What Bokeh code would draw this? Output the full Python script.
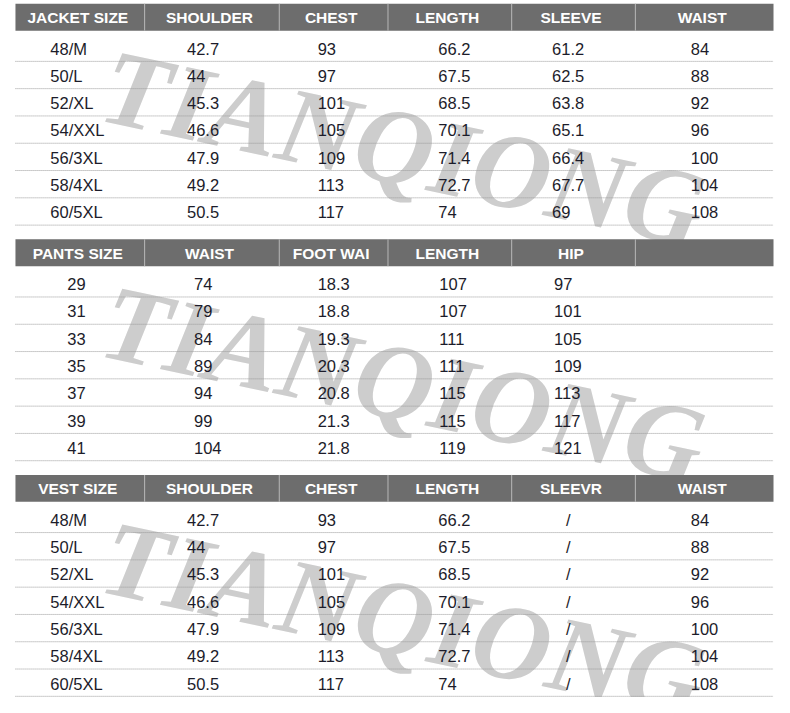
from bokeh.plotting import figure
from bokeh.models import Range1d
from bokeh.core.properties import value
from bokeh.embed import file_html
from bokeh.resources import INLINE

# ---------------- data ----------------
jacket_cols = ["JACKET SIZE", "SHOULDER", "CHEST", "LENGTH", "SLEEVE", "WAIST"]
jacket_size = ["48/M", "50/L", "52/XL", "54/XXL", "56/3XL", "58/4XL", "60/5XL"]
jacket_shoulder = [42.7, 44, 45.3, 46.6, 47.9, 49.2, 50.5]
jacket_chest = [93, 97, 101, 105, 109, 113, 117]
jacket_length = [66.2, 67.5, 68.5, 70.1, 71.4, 72.7, 74]
jacket_sleeve = [61.2, 62.5, 63.8, 65.1, 66.4, 67.7, 69]
jacket_waist = [84, 88, 92, 96, 100, 104, 108]

pants_cols = ["PANTS SIZE", "WAIST", "FOOT WAI", "LENGTH", "HIP", ""]
pants_size = [29, 31, 33, 35, 37, 39, 41]
pants_waist = [74, 79, 84, 89, 94, 99, 104]
pants_foot = [18.3, 18.8, 19.3, 20.3, 20.8, 21.3, 21.8]
pants_length = [107, 107, 111, 111, 115, 115, 119]
pants_hip = [97, 101, 105, 109, 113, 117, 121]

vest_cols = ["VEST SIZE", "SHOULDER", "CHEST", "LENGTH", "SLEEVR", "WAIST"]
vest_size = ["48/M", "50/L", "52/XL", "54/XXL", "56/3XL", "58/4XL", "60/5XL"]
vest_shoulder = [42.7, 44, 45.3, 46.6, 47.9, 49.2, 50.5]
vest_chest = [93, 97, 101, 105, 109, 113, 117]
vest_length = [66.2, 67.5, 68.5, 70.1, 71.4, 72.7, 74]
vest_sleeve = ["/", "/", "/", "/", "/", "/", "/"]
vest_waist = [84, 88, 92, 96, 100, 104, 108]

watermark = "TIANQIONG"

# ---------------- layout (pixel units of the picture) ----------------
col_edges = [15, 144, 279, 388, 512, 636, 775]
table_top = [3.3, 243.3, 483.3]
header_h = 27.4
row_first = 49.0 - 3.3     # first row centre offset from table top
row_h = 27.8

tables = [
    (jacket_cols, [jacket_size, jacket_shoulder, jacket_chest, jacket_length, jacket_sleeve, jacket_waist],
     [50, 187, 318, 439, 553, 692]),
    (pants_cols, [pants_size, pants_waist, pants_foot, pants_length, pants_hip],
     [67, 194, 318, 440, 555]),
    (vest_cols, [vest_size, vest_shoulder, vest_chest, vest_length, vest_sleeve, vest_waist],
     [50, 187, 318, 439, 567, 692]),
]


def fmt(v):
    if isinstance(v, str):
        return v
    return f"{v:g}"


W, H = 774, 697
p = figure(width=W, height=H, output_backend="svg", toolbar_location=None,
           x_range=Range1d(0, 776), y_range=Range1d(-710, 0),
           min_border=0, tools="")
p.axis.visible = False
p.grid.visible = False
p.outline_line_color = None
p.background_fill_color = "white"
p.border_fill_color = "white"

# watermark
wm_x, wm_y, wm_t = [], [], []
for t0 in table_top:
    wm_x.append(404)
    wm_y.append(-(t0 + 147))
    wm_t.append(watermark)
p.text(x=wm_x, y=wm_y, text=wm_t, angle=-0.21, text_align="center", text_baseline="middle",
       text_font=value("Liberation Serif"), text_font_style="bold italic",
       text_font_size="108px", text_color="#cdcdcd")

# dotted row lines
lx0, lx1, ly = [], [], []
for t0 in table_top:
    for r in range(7):
        yy = t0 + row_first + r * row_h + 13
        lx0.append(col_edges[0]); lx1.append(col_edges[-1]); ly.append(-yy)
p.segment(x0=lx0, y0=ly, x1=lx1, y1=ly, line_color="#9a9a9a", line_width=1, line_dash="1 1")

# headers
p.quad(left=[col_edges[0]] * 3, right=[col_edges[-1]] * 3,
       top=[-t for t in table_top], bottom=[-(t + header_h) for t in table_top],
       fill_color="#6d6d6d", line_color=None)
sx, sy0, sy1 = [], [], []
for t0 in table_top:
    for e in col_edges[1:-1]:
        sx.append(e + 0.5); sy0.append(-t0); sy1.append(-(t0 + header_h))
p.segment(x0=sx, y0=sy0, x1=sx, y1=sy1, line_color="#b8b8b8", line_width=1)

hx, hy, ht = [], [], []
for (cols, _, _), t0 in zip(tables, table_top):
    for i, c in enumerate(cols):
        hx.append((col_edges[i] + col_edges[i + 1]) / 2 - 2)
        hy.append(-(t0 + header_h / 2 + 0.5))
        ht.append(c)
p.text(x=hx, y=hy, text=ht, text_align="center", text_baseline="middle",
       text_font=value("Liberation Sans"), text_font_style="bold",
       text_font_size="15.5px", text_color="white")

# body values
bx, by, bt = [], [], []
for (cols, columns, xs), t0 in zip(tables, table_top):
    for ci, colvals in enumerate(columns):
        for r, v in enumerate(colvals):
            bx.append(xs[ci])
            by.append(-(t0 + row_first + r * row_h))
            bt.append(fmt(v))
p.text(x=bx, y=by, text=bt, text_align="left", text_baseline="middle",
       text_font=value("Liberation Sans"), text_font_size="16.5px", text_color="#1c1c2a")

open("out.html", "w").write(file_html(p, INLINE))
